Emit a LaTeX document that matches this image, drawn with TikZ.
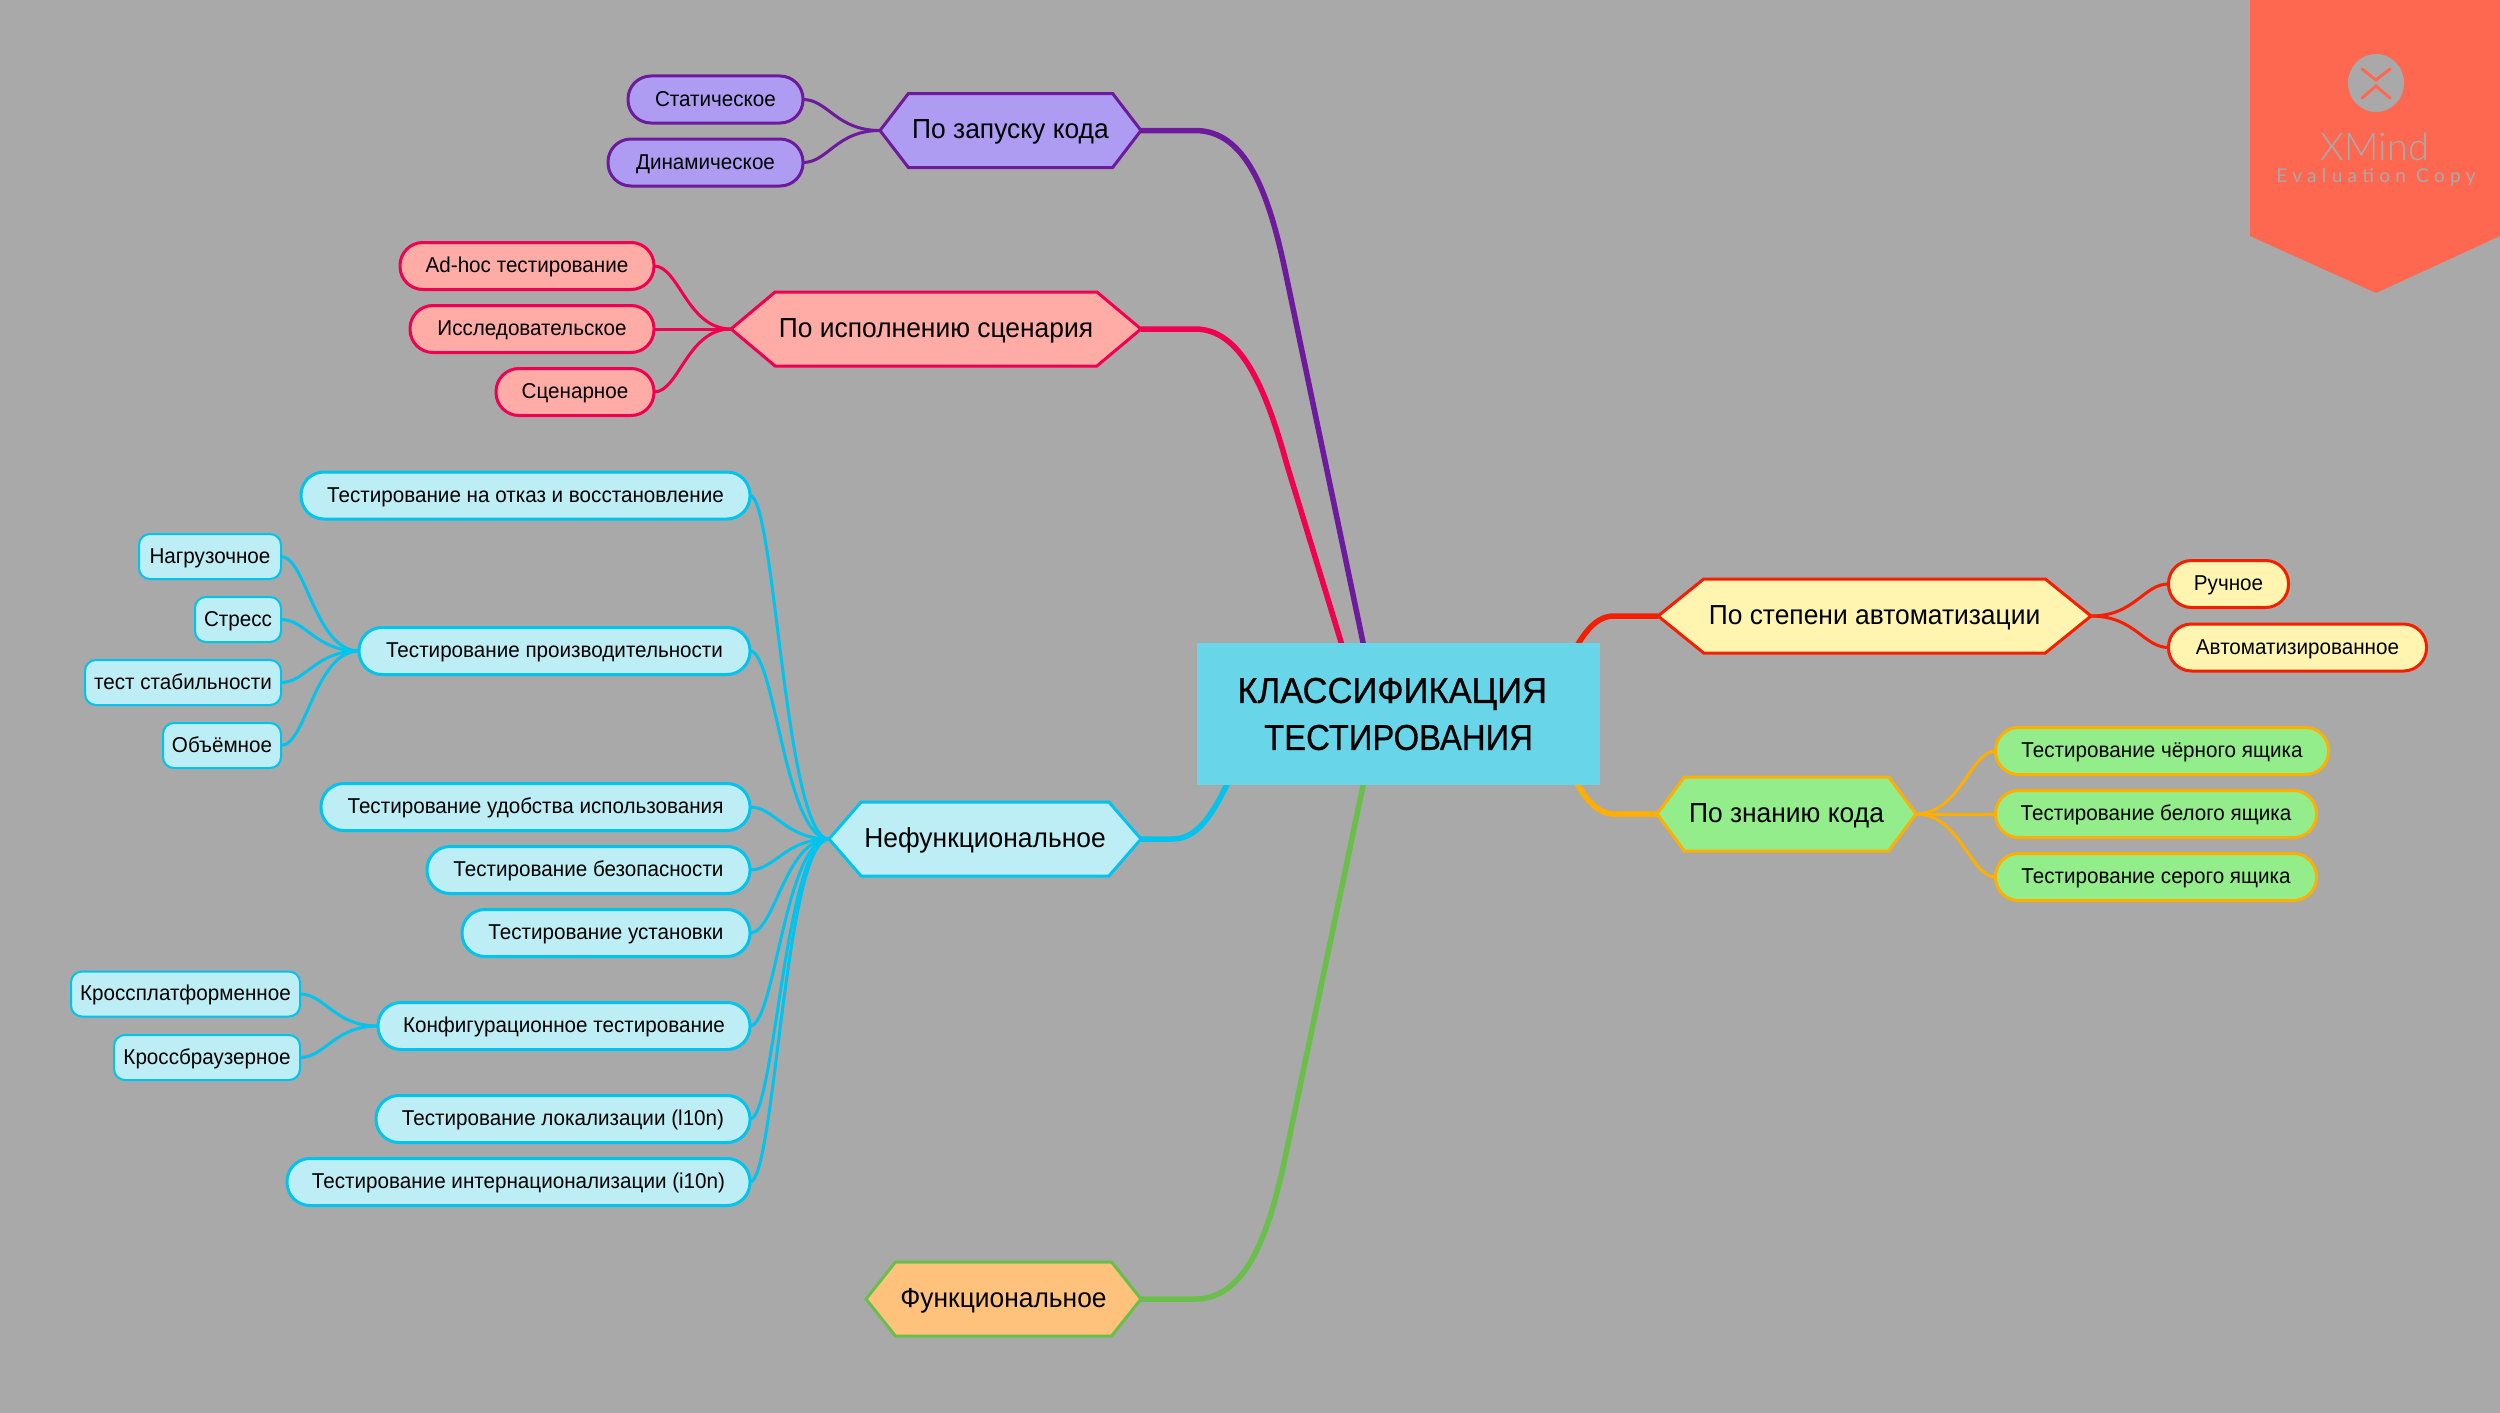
\documentclass[tikz,border=0pt]{standalone}
\usepackage{graphicx}
\usepackage{fontspec}
\setmainfont[FakeStretch=0.96]{Liberation Sans}
\newfontfamily\rootfont[FakeStretch=0.96,FakeBold=0.6]{Liberation Sans}
\newfontfamily\markfont[LetterSpace=28]{Lato}
\newfontfamily\marklogo{Lato Light}
\usetikzlibrary{shapes.symbols,backgrounds}

\definecolor{paper}{HTML}{A9A9A9}
\definecolor{rootfill}{HTML}{68D5E8}
\definecolor{runline}{HTML}{6D1A9C}
\definecolor{runfill}{HTML}{AD9CF2}
\definecolor{scriptline}{HTML}{F0004F}
\definecolor{scriptfill}{HTML}{FFABA6}
\definecolor{nonline}{HTML}{00C4EE}
\definecolor{nonfill}{HTML}{BEEEF5}
\definecolor{funcline}{HTML}{6ABF4B}
\definecolor{funcfill}{HTML}{FFC27C}
\definecolor{autoline}{HTML}{F51F00}
\definecolor{autofill}{HTML}{FFF5B0}
\definecolor{knowline}{HTML}{FFAF00}
\definecolor{knowfill}{HTML}{93ED8A}
\definecolor{banner}{HTML}{FF6850}

\tikzset{
  hexa/.style={signal,signal to=west and east,signal pointer angle=#1,draw,line width=3pt,
    outer sep=0pt,inner sep=0pt,minimum height=74pt,text height=22pt,text depth=6pt,
    font=\fontsize{27.5}{32}\selectfont},
  pill/.style={draw,rounded corners=23pt,line width=3pt,outer sep=0pt,inner sep=0pt,
    minimum height=47pt,text height=18pt,text depth=4.4pt,font=\fontsize{21.5}{25}\selectfont},
  tag/.style={draw,rounded corners=11pt,line width=2pt,outer sep=0pt,inner sep=0pt,
    minimum height=45pt,text height=18pt,text depth=4.4pt,font=\fontsize{21.5}{25}\selectfont},
  branch/.style={line width=5.5pt},
  twigl/.style={line width=3pt,to path={.. controls +(25,0) and +(-44,0) .. (\tikztotarget)}},
  twigr/.style={line width=3pt,to path={.. controls +(44,0) and +(-25,0) .. (\tikztotarget)}}
}

\begin{document}
\begin{tikzpicture}[x=1pt,y=-1pt]
  \useasboundingbox (0,0) rectangle (2500,1413);

  \node[fill=rootfill,minimum width=403pt,minimum height=142pt,inner sep=0pt,align=center,
    font=\rootfont\fontsize{36}{47}\selectfont] (root) at (1398.5,714) {КЛАССИФИКАЦИЯ~\hspace*{3pt}\\\scalebox{.95}[1]{ТЕСТИРОВАНИЯ}};

  % left top
  \node[hexa=105,draw=runline,fill=runfill,minimum width=261pt] (run) at (1010.5,130.5) {По запуску кода};
  \node[pill,draw=runline,fill=runfill,anchor=east,minimum width=175pt] (run1) at (803,99.5) {Статическое};
  \node[pill,draw=runline,fill=runfill,anchor=east,minimum width=195pt] (run2) at (803,162.5) {Динамическое};

  \node[hexa=80,draw=scriptline,fill=scriptfill,minimum width=410pt] (script) at (936,329) {По исполнению сценария};
  \node[pill,draw=scriptline,fill=scriptfill,anchor=east,minimum width=254pt] (script1) at (654,266) {Ad-hoc тестирование};
  \node[pill,draw=scriptline,fill=scriptfill,anchor=east,minimum width=244pt] (script2) at (654,329) {Исследовательское};
  \node[pill,draw=scriptline,fill=scriptfill,anchor=east,minimum width=158pt] (script3) at (654,392) {Сценарное};

  % left middle
  \node[hexa=98,draw=nonline,fill=nonfill,minimum width=312pt] (non) at (985,839) {Нефункциональное};
  \node[pill,draw=nonline,fill=nonfill,anchor=east,minimum width=449pt] (fail) at (750,495.5) {Тестирование на отказ и восстановление};
  \node[pill,draw=nonline,fill=nonfill,anchor=east,minimum width=391pt] (perf) at (750,651) {Тестирование производительности};
  \node[pill,draw=nonline,fill=nonfill,anchor=east,minimum width=429pt] (usab) at (750,807) {Тестирование удобства использования};
  \node[pill,draw=nonline,fill=nonfill,anchor=east,minimum width=323pt] (secur) at (750,870) {Тестирование безопасности};
  \node[pill,draw=nonline,fill=nonfill,anchor=east,minimum width=288pt] (inst) at (750,933) {Тестирование установки};
  \node[pill,draw=nonline,fill=nonfill,anchor=east,minimum width=372pt] (conf) at (750,1026) {Конфигурационное тестирование};
  \node[pill,draw=nonline,fill=nonfill,anchor=east,minimum width=374pt] (loc) at (750,1119) {Тестирование локализации (l10n)};
  \node[pill,draw=nonline,fill=nonfill,anchor=east,minimum width=463pt] (intl) at (750,1182) {Тестирование интернационализации (i10n)};

  \node[tag,draw=nonline,fill=nonfill,anchor=east,minimum width=142pt] (load) at (281,556.5) {Нагрузочное};
  \node[tag,draw=nonline,fill=nonfill,anchor=east,minimum width=86pt] (stress) at (281,619.5) {Стресс};
  \node[tag,draw=nonline,fill=nonfill,anchor=east,minimum width=196pt] (stab) at (281,682.5) {тест стабильности};
  \node[tag,draw=nonline,fill=nonfill,anchor=east,minimum width=118pt] (vol) at (281,745.5) {Объёмное};
  \node[tag,draw=nonline,fill=nonfill,anchor=east,minimum width=229pt] (plat) at (300,994) {Кроссплатформенное};
  \node[tag,draw=nonline,fill=nonfill,anchor=east,minimum width=186pt] (brow) at (300,1057.5) {Кроссбраузерное};

  % left bottom
  \node[hexa=103,draw=funcline,fill=funcfill,minimum width=275pt] (func) at (1003.5,1299) {Функциональное};

  % right
  \node[hexa=78,draw=autoline,fill=autofill,minimum width=433pt] (auto) at (1874.5,616) {По степени автоматизации};
  \node[pill,draw=autoline,fill=autofill,anchor=west,minimum width=120pt] (auto1) at (2168.5,584) {Ручное};
  \node[pill,draw=autoline,fill=autofill,anchor=west,minimum width=258pt] (auto2) at (2168.5,647.5) {Автоматизированное};

  \node[hexa=107,draw=knowline,fill=knowfill,minimum width=259pt] (know) at (1786.5,814) {По знанию кода};
  \node[pill,draw=knowline,fill=knowfill,anchor=west,minimum width=333pt] (know1) at (1995.5,751) {Тестирование чёрного ящика};
  \node[pill,draw=knowline,fill=knowfill,anchor=west,minimum width=321pt] (know2) at (1995.5,814) {Тестирование белого ящика};
  \node[pill,draw=knowline,fill=knowfill,anchor=west,minimum width=321pt] (know3) at (1995.5,877) {Тестирование серого ящика};

  \begin{scope}[on background layer]
    \fill[paper] (0,0) rectangle (2500,1413);

    \coordinate (rootrun) at (1378,714);
    \coordinate (rootscript) at (1363,714);
    \coordinate (rootfunc) at (1378,714);
    \coordinate (rootnon) at (1250,730);
    \coordinate (rootauto) at (1560,680);
    \coordinate (rootknow) at (1560,752);

    \draw[branch,runline] (run.east) -- (1195,130.5) .. controls (1245,130.5) and (1268,190) .. (1285,270) -- (rootrun);
    \draw[branch,scriptline] (script.east) -- (1195,329) .. controls (1240,329) and (1265,385) .. (1287,465) -- (rootscript);
    \draw[branch,nonline] (non.east) -- (1172,839) .. controls (1200,839) and (1218,812) .. (rootnon);
    \draw[branch,funcline] (func.east) -- (1195,1299) .. controls (1245,1299) and (1268,1238) .. (1285,1158) -- (rootfunc);
    \draw[branch,autoline] (auto.west) -- (1614,616) .. controls (1592,616) and (1578,640) .. (rootauto);
    \draw[branch,knowline] (know.west) -- (1614,814) .. controls (1592,814) and (1578,788) .. (rootknow);

    \draw[twigl,runline] (run1.east) to (run.west);
    \draw[twigl,runline] (run2.east) to (run.west);
    \draw[twigl,scriptline] (script1.east) to (script.west);
    \draw[twigl,scriptline] (script2.east) to (script.west);
    \draw[twigl,scriptline] (script3.east) to (script.west);
    \draw[twigl,nonline] (fail.east) to (non.west);
    \draw[twigl,nonline] (perf.east) to (non.west);
    \draw[twigl,nonline] (usab.east) to (non.west);
    \draw[twigl,nonline] (secur.east) to (non.west);
    \draw[twigl,nonline] (inst.east) to (non.west);
    \draw[twigl,nonline] (conf.east) to (non.west);
    \draw[twigl,nonline] (loc.east) to (non.west);
    \draw[twigl,nonline] (intl.east) to (non.west);
    \draw[twigl,nonline] (load.east) to (perf.west);
    \draw[twigl,nonline] (stress.east) to (perf.west);
    \draw[twigl,nonline] (stab.east) to (perf.west);
    \draw[twigl,nonline] (vol.east) to (perf.west);
    \draw[twigl,nonline] (plat.east) to (conf.west);
    \draw[twigl,nonline] (brow.east) to (conf.west);
    \draw[twigr,autoline] (auto.east) to (auto1.west);
    \draw[twigr,autoline] (auto.east) to (auto2.west);
    \draw[twigr,knowline] (know.east) to (know1.west);
    \draw[twigr,knowline] (know.east) to (know2.west);
    \draw[twigr,knowline] (know.east) to (know3.west);
  \end{scope}

  % evaluation mark
  \fill[banner] (2250,0) -- (2500,0) -- (2500,236) -- (2376,293) -- (2250,236) -- cycle;
  \fill[paper] (2376,83) ellipse (28 and 29);
  \draw[banner,line width=3pt,line cap=round] (2362,69) -- (2376,80) -- (2390,69);
  \draw[banner,line width=3pt,line cap=round] (2362,98) -- (2376,86) -- (2390,98);
  \node[paper,font=\marklogo\fontsize{38}{44}\selectfont,inner sep=0pt] (logo) at (2375,147) {XMind};
  \node[paper,font=\markfont\fontsize{19}{23}\selectfont,inner sep=0pt] (copy) at (2376,177) {Evaluation Copy};
\end{tikzpicture}
\end{document}
